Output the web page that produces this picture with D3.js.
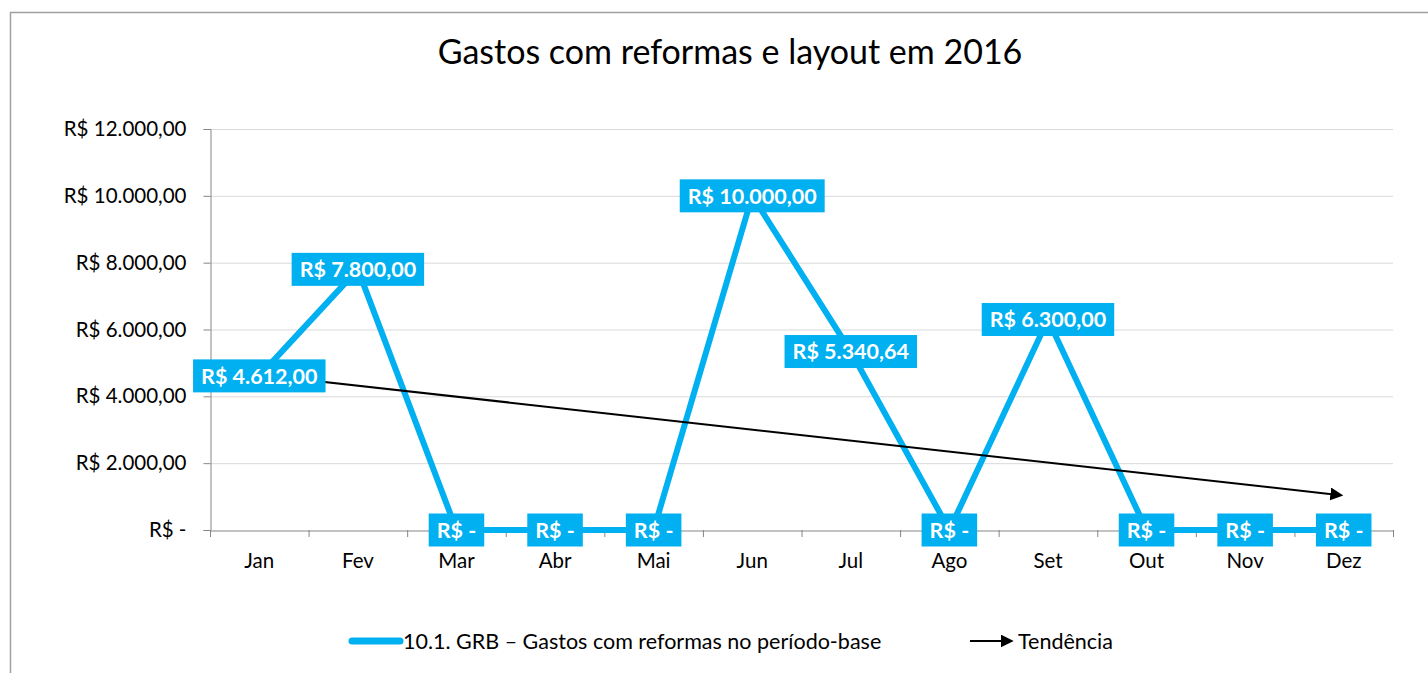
<!DOCTYPE html>
<html><head><meta charset="utf-8">
<script src="https://cdn.jsdelivr.net/npm/d3@7"></script>
<style>body{margin:0;background:#fff}svg{display:block}text{font-family:Lato,"Open Sans",sans-serif}</style>
</head><body><svg id="c" width="1428" height="673"></svg>
<script>
const months = ["Jan","Fev","Mar","Abr","Mai","Jun","Jul","Ago","Set","Out","Nov","Dez"];
const values = [4612, 7800, 0, 0, 0, 10000, 5340.64, 0, 6300, 0, 0, 0];
const yTicks = [0, 2000, 4000, 6000, 8000, 10000, 12000];
const title = "Gastos com reformas e layout em 2016";
const seriesName = "10.1. GRB – Gastos com reformas no período-base";
const trendName = "Tendência";

const fmt = v => v === 0 ? "R$ -" : "R$ " + v.toLocaleString("pt-BR",{minimumFractionDigits:2,maximumFractionDigits:2});
const svg = d3.select("#c");
const blue = "#00B0F0";
const m = {l:210, r:1393, t:129, b:530};
const x = d3.scaleBand().domain(months).range([m.l, m.r]);
const y = d3.scaleLinear().domain([0, 12000]).range([m.b, m.t]);
const cx = d => x(d) + x.bandwidth()/2;

svg.append("rect").attr("x",10.5).attr("y",12.5).attr("width",1430).attr("height",680)
  .attr("fill","#fff").attr("stroke","#a0a0a0").attr("stroke-width",1.5);

svg.append("text").attr("x",730).attr("y",64).attr("text-anchor","middle")
  .attr("font-size",34).attr("fill","#000").text(title);

// grid
svg.append("g").selectAll("line").data(yTicks.filter(t=>t>0)).join("line")
  .attr("x1",m.l).attr("x2",m.r).attr("y1",d=>y(d)+0.5).attr("y2",d=>y(d)+0.5)
  .attr("stroke","#d9d9d9").attr("stroke-width",1);

// y axis
const ya = svg.append("g").attr("transform",`translate(${m.l+0.5},0)`)
  .call(d3.axisLeft(y).tickValues(yTicks).tickFormat(fmt).tickSize(7).tickPadding(17));
ya.select(".domain").attr("stroke","#868686");
ya.selectAll(".tick line").attr("stroke","#868686");
ya.selectAll("text").attr("font-size",20.5).attr("fill","#000").attr("font-family","Lato,sans-serif");

// x axis
const xa = svg.append("g").attr("transform",`translate(0,${m.b+0.5})`)
  .call(d3.axisBottom(x).tickSize(0).tickPadding(23));
xa.select(".domain").attr("stroke","#868686");
xa.selectAll("text").attr("font-size",20.5).attr("fill","#000").attr("font-family","Lato,sans-serif");
const bounds = months.map(d=>x(d)).concat([m.r]);
svg.append("g").selectAll("line").data(bounds).join("line")
  .attr("x1",d=>d+0.5).attr("x2",d=>d+0.5).attr("y1",m.b).attr("y2",m.b+7)
  .attr("stroke","#868686");

// series line
const line = d3.line().x((d,i)=>cx(months[i])).y(d=>y(d));
svg.append("path").datum(values).attr("d",line).attr("fill","none")
  .attr("stroke",blue).attr("stroke-width",6).attr("stroke-linejoin","miter");

// trend (least squares)
const n = values.length, xs = d3.range(1,n+1);
const mx = d3.mean(xs), my = d3.mean(values);
const slope = d3.sum(xs,(v,i)=>(v-mx)*(values[i]-my)) / d3.sum(xs,v=>(v-mx)*(v-mx));
const icpt = my - slope*mx;
const defs = svg.append("defs");
defs.append("marker").attr("id","arr").attr("viewBox","0 0 10 10").attr("refX",1).attr("refY",5)
  .attr("markerWidth",6.5).attr("markerHeight",6.5).attr("markerUnits","strokeWidth").attr("orient","auto")
  .append("path").attr("d","M0,0L10,5L0,10z").attr("fill","#000");
svg.append("line").attr("x1",cx(months[0])).attr("y1",y(icpt+slope*1))
  .attr("x2",cx(months[n-1])-12).attr("y2",y(icpt+slope*n)-1.5)
  .attr("stroke","#000").attr("stroke-width",2).attr("marker-end","url(#arr)");

// data labels
const lg = svg.append("g");
values.forEach((v,i)=>{
  const g = lg.append("g").attr("transform",`translate(${cx(months[i])},${y(v)})`);
  const t = g.append("text").attr("text-anchor","middle").attr("dy","0.36em")
    .attr("font-size",21.5).attr("font-weight","bold").attr("fill","#fff").text(fmt(v));
  const w = t.node().getComputedTextLength();
  g.insert("rect","text").attr("x",-w/2-8).attr("y",-16.5).attr("width",w+16).attr("height",33).attr("fill",blue);
});

// legend
const ly = 641;
svg.append("line").attr("x1",352).attr("x2",400).attr("y1",ly).attr("y2",ly)
  .attr("stroke",blue).attr("stroke-width",7).attr("stroke-linecap","round");
svg.append("text").attr("x",403).attr("y",ly).attr("dy","0.35em").attr("font-size",21.5).text(seriesName);
svg.append("line").attr("x1",970).attr("x2",1002).attr("y1",ly).attr("y2",ly)
  .attr("stroke","#000").attr("stroke-width",2).attr("marker-end","url(#arr)");
svg.append("text").attr("x",1018).attr("y",ly).attr("dy","0.35em").attr("font-size",21.5).text(trendName);
</script></body></html>
